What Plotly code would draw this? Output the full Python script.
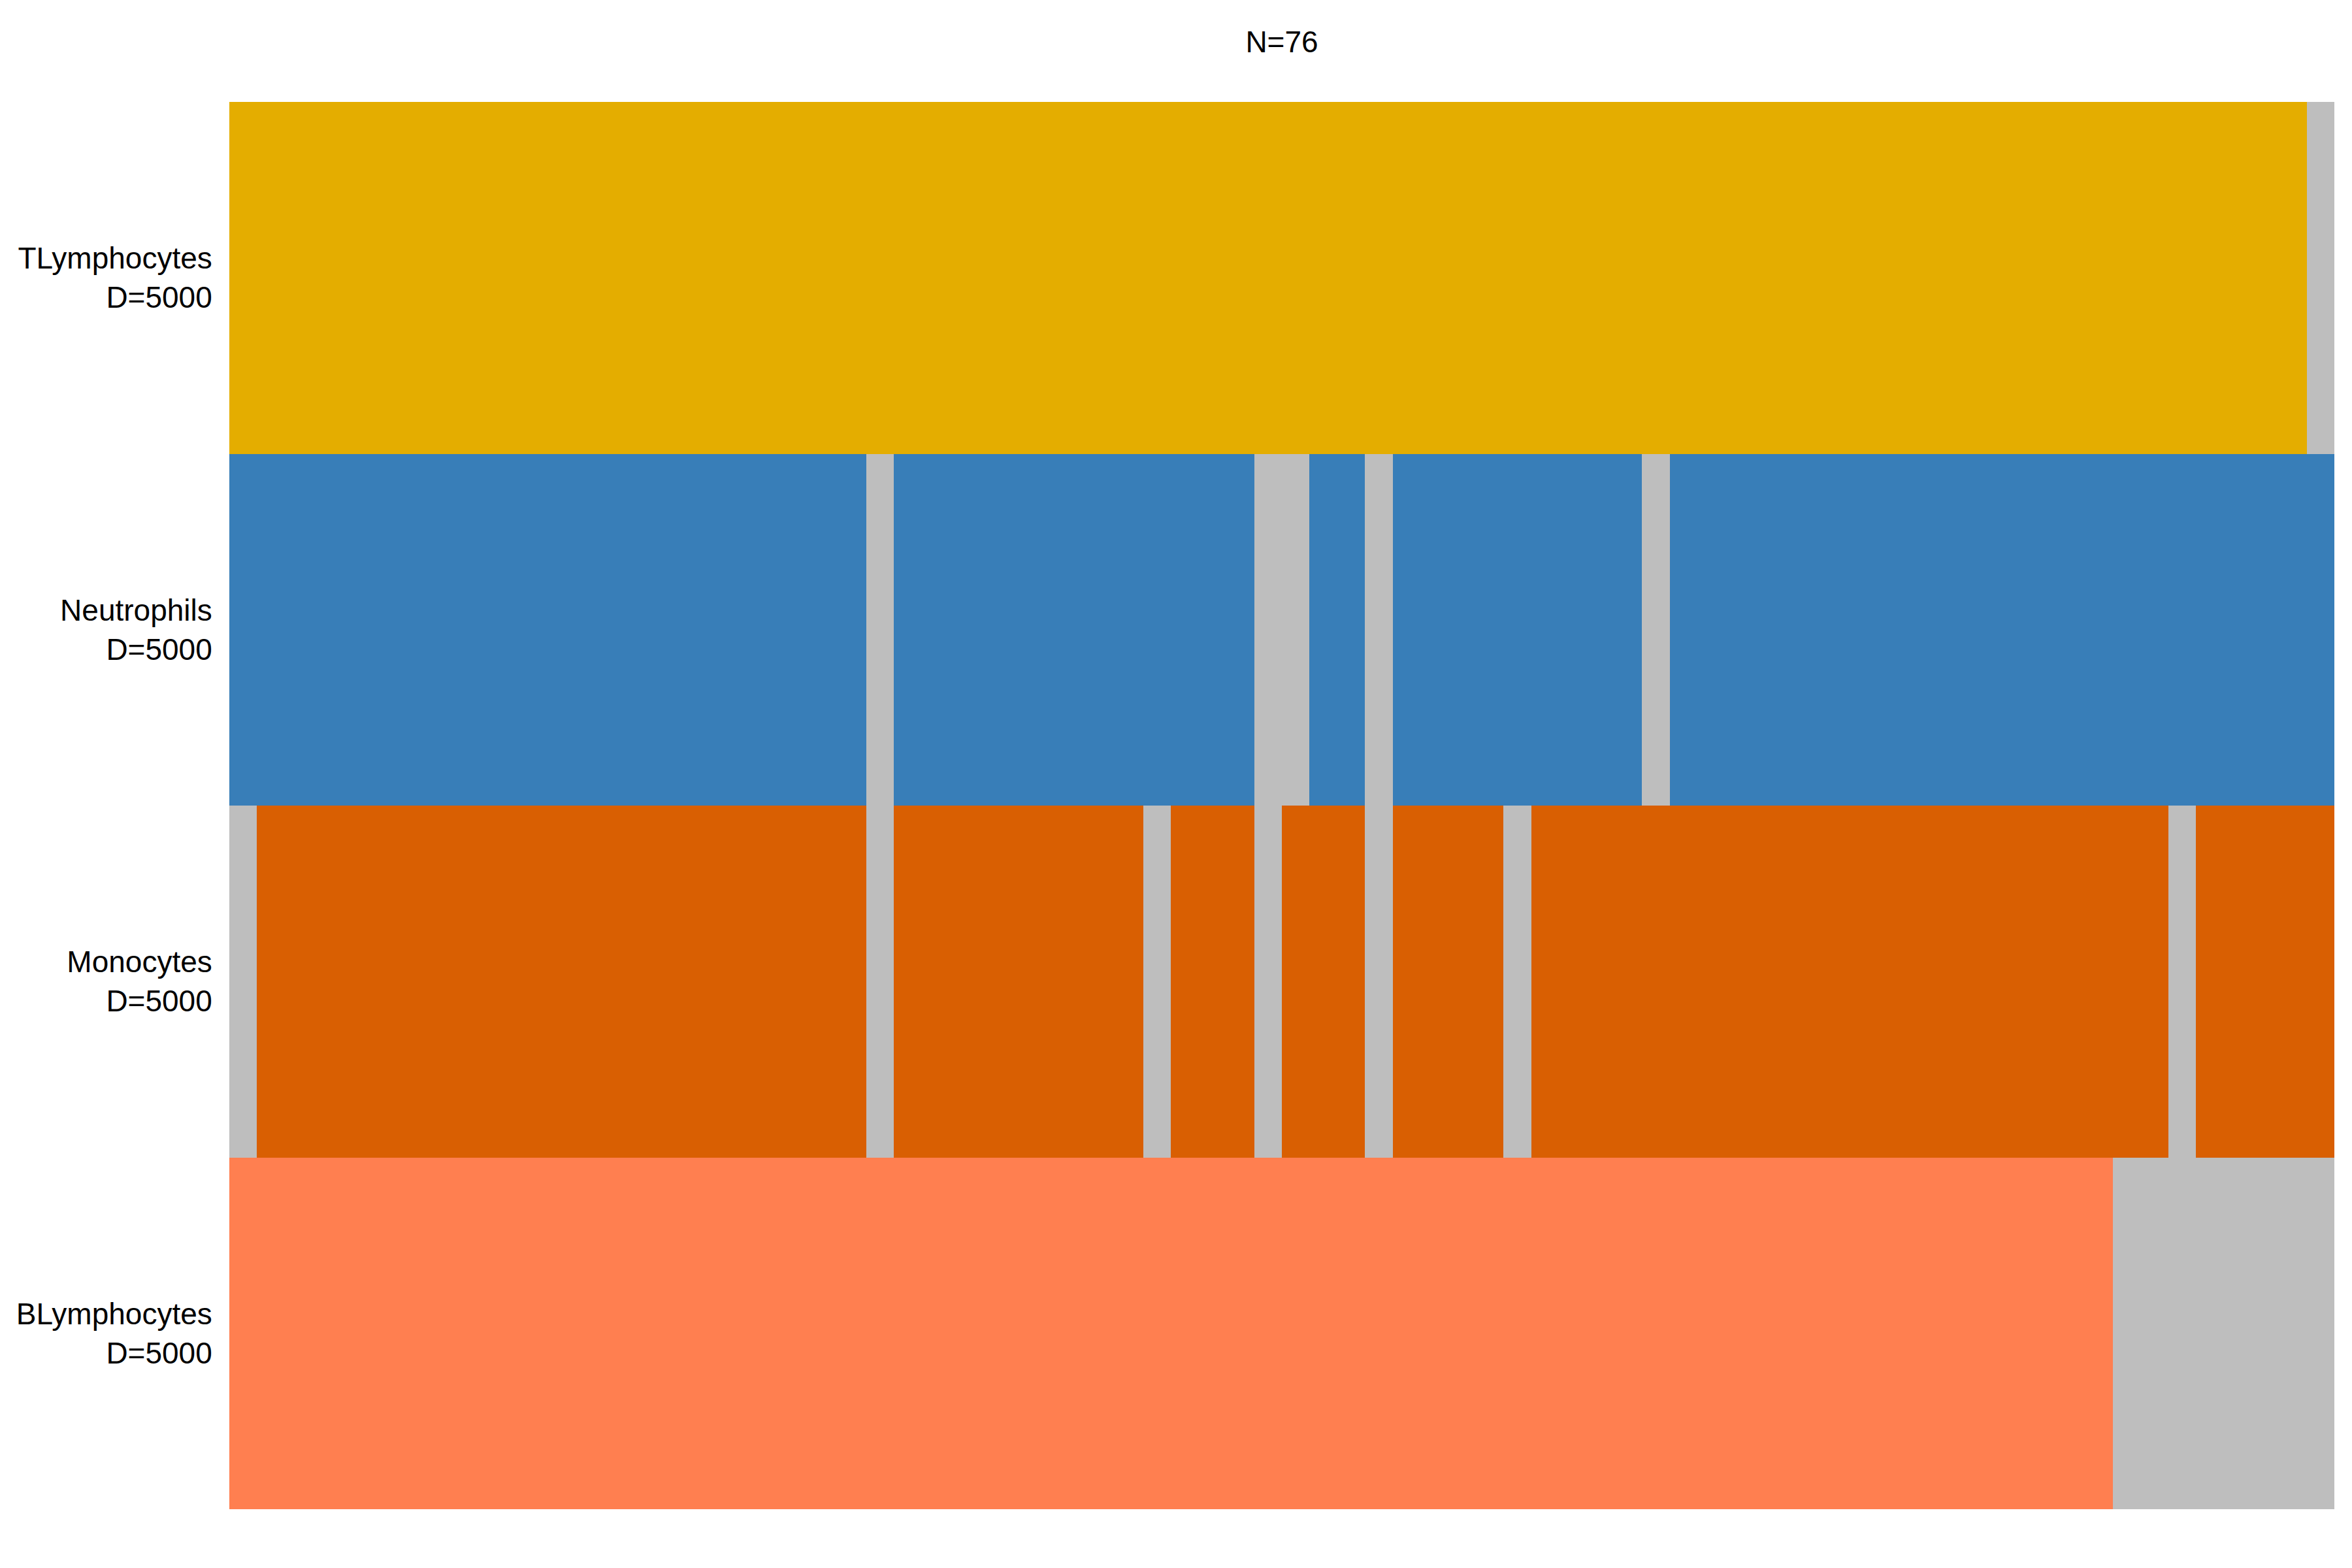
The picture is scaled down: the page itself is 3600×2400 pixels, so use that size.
import plotly.graph_objects as go

n_samples = 76
row_names = ["TLymphocytes", "Neutrophils", "Monocytes", "BLymphocytes"]
row_depth = [5000, 5000, 5000, 5000]
row_colors = ["#E4AD00", "#387EB8", "#D95F02", "#FF7F50"]
missing_color = "#BEBEBE"

# columns (0-based sample index) with missing data per row
missing_T = [75]
missing_N = [23, 37, 38, 41, 51]
missing_M = [0, 23, 33, 37, 41, 46, 70]
missing_B = [68, 69, 70, 71, 72, 73, 74, 75]
missing = [missing_T, missing_N, missing_M, missing_B]

labels = [f"{nm}<br>D={d}" for nm, d in zip(row_names, row_depth)]

z = []
for i, miss in enumerate(missing):
    z.append([0 if j in miss else i + 1 for j in range(n_samples)])

k = len(row_colors) + 1
cs = []
all_cols = [missing_color] + row_colors
for idx, c in enumerate(all_cols):
    cs.append([idx / k, c])
    cs.append([(idx + 1) / k, c])

fig = go.Figure(go.Heatmap(
    z=z,
    x=list(range(n_samples)),
    y=labels,
    colorscale=cs,
    zmin=-0.5,
    zmax=k - 0.5,
    showscale=False,
    xgap=0, ygap=0,
    hoverinfo="skip",
))

fig.update_layout(
    width=3600, height=2400,
    paper_bgcolor="white", plot_bgcolor="white",
    margin=dict(l=351, r=27, t=156, b=90),
    title=dict(text=f"N={n_samples}", x=(351 + (3600 - 27)) / 2 / 3600, xanchor="center",
               y=1 - 64 / 2400, yanchor="middle",
               font=dict(family="Liberation Sans, Arial", size=46, color="black")),
    font=dict(family="Liberation Sans, Arial", size=46, color="black"),
)
fig.update_xaxes(visible=False, range=[-0.5, n_samples - 0.5])
fig.update_yaxes(autorange="reversed", showgrid=False, zeroline=False, showline=False,
                 ticks="outside", ticklen=16, tickcolor="rgba(0,0,0,0)",
                 tickfont=dict(family="Liberation Sans, Arial", size=46, color="black"))

fig.write_html("out.html")
